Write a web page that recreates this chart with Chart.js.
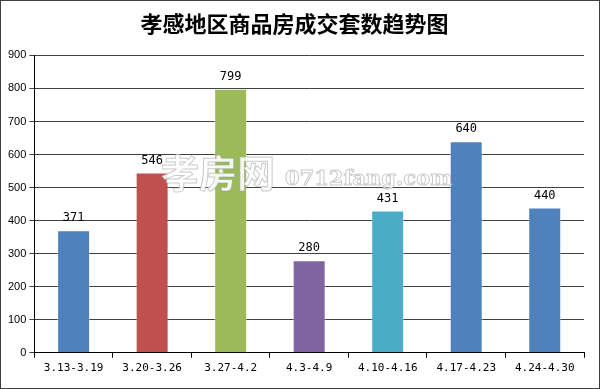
<!DOCTYPE html>
<html>
<head>
<meta charset="utf-8">
<script src="https://cdn.jsdelivr.net/npm/chart.js@4/dist/chart.umd.min.js"></script>
<style>
    body { margin: 0; background: #fff; }
    .frame { width: 600px; height: 389px; box-sizing: border-box; border: 1px solid #404040; position: relative; }
    canvas { display: block; }
</style>
</head>
<body>
<div class="frame"><canvas id="chart" width="598" height="387"></canvas></div>
<script>
// Data
const weeks = ['3.13-3.19', '3.20-3.26', '3.27-4.2', '4.3-4.9', '4.10-4.16', '4.17-4.23', '4.24-4.30'];
const deals = [371, 546, 799, 280, 431, 640, 440];
const barColors = ['#4F81BD', '#C0504D', '#9BBB59', '#8064A2', '#4BACC6', '#4F81BD', '#4F81BD'];
const yTicks = [0, 100, 200, 300, 400, 500, 600, 700, 800, 900];

// Value labels above bars
const valueLabels = {
    id: 'valueLabels',
    afterDatasetsDraw(chart) {
        const ctx = chart.ctx;
        const meta = chart.getDatasetMeta(0);
        ctx.save();
        ctx.font = '12px "DejaVu Sans Mono", monospace';
        ctx.fillStyle = '#000';
        ctx.textAlign = 'center';
        ctx.textBaseline = 'bottom';
        meta.data.forEach((bar, i) => {
            ctx.fillText(deals[i], bar.x, bar.y - 6);
        });
        ctx.restore();
    }
};

// Site watermark
const watermark = {
    id: 'watermark',
    afterDraw(chart) {
        const ctx = chart.ctx;
        ctx.save();
        ctx.textBaseline = 'middle';
        ctx.fillStyle = 'rgba(255,255,255,0.9)';
        ctx.strokeStyle = 'rgba(150,150,150,0.5)';
        ctx.lineWidth = 1;
        ctx.font = 'bold 38px "Noto Sans CJK SC"';
        ctx.fillText('孝房网', 160, 172);
        ctx.strokeText('孝房网', 160, 172);
        ctx.font = 'bold 21px "DejaVu Serif"';
        ctx.fillText('0712fang.com', 284, 179);
        ctx.strokeText('0712fang.com', 284, 179);
        ctx.restore();
    }
};

new Chart(document.getElementById('chart'), {
    type: 'bar',
    data: {
        labels: weeks,
        datasets: [{
            data: deals,
            backgroundColor: barColors,
            borderColor: 'rgba(255,255,255,0.4)',
            borderWidth: 1,
            barPercentage: 0.42,
            categoryPercentage: 1
        }]
    },
    options: {
        responsive: false,
        animation: false,
        layout: { padding: { left: 4, right: 15, top: 4, bottom: 9 } },
        plugins: {
            legend: { display: false },
            tooltip: { enabled: false },
            title: {
                display: true,
                text: '孝感地区商品房成交套数趋势图',
                color: '#000',
                font: { family: '"Noto Sans CJK SC"', size: 22, weight: 'bold' },
                padding: { top: 5, bottom: 19 }
            }
        },
        scales: {
            x: {
                grid: { display: true, drawOnChartArea: false, offset: true, color: '#000', tickLength: 5 },
                border: { color: '#000' },
                ticks: {
                    color: '#000',
                    font: { family: '"DejaVu Sans Mono", monospace', size: 11 },
                    padding: 4,
                    maxRotation: 0
                }
            },
            y: {
                min: 0,
                max: 900,
                afterBuildTicks: axis => { axis.ticks = yTicks.map(v => ({ value: v })); },
                grid: { color: '#404040', tickLength: 5 },
                border: { color: '#000' },
                ticks: {
                    color: '#000',
                    font: { family: '"Liberation Sans"', size: 11 },
                    padding: 3
                }
            }
        }
    },
    plugins: [valueLabels, watermark]
});
</script>
</body>
</html>
